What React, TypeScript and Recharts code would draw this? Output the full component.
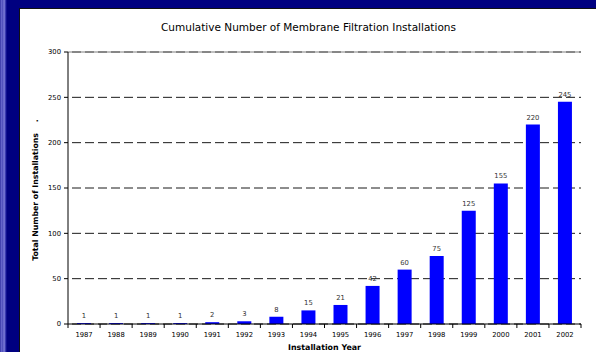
import React from 'react';
import { BarChart, Bar, XAxis, YAxis, CartesianGrid, ReferenceLine, LabelList } from 'recharts';

const YEARS = ['1987', '1988', '1989', '1990', '1991', '1992', '1993', '1994', '1995', '1996', '1997', '1998', '1999', '2000', '2001', '2002'];
const INSTALLS = [1, 1, 1, 1, 2, 3, 8, 15, 21, 42, 60, 75, 125, 155, 220, 245];
const Y_TICKS = [0, 50, 100, 150, 200, 250, 300];

const data = YEARS.map((year, i) => ({ year, count: INSTALLS[i] }));

// Tahoma/Verdana look-alike
const FONT = '"DejaVu Sans", Verdana, sans-serif';

// Excel style: tick marks sit between categories, labels under the bar
const YearTick = (props: any) => {
  const { x, y, payload, width, index } = props;
  const band = (width || 513) / YEARS.length;
  return (
    <g>
      <line x1={x + band / 2} x2={x + band / 2} y1={y} y2={y + 4} stroke="#000" />
      {index === 0 && <line x1={x - band / 2} x2={x - band / 2} y1={y} y2={y + 4} stroke="#000" />}
      <text x={x} y={y + 13} textAnchor="middle" fontSize={6.8} fill="#000" fontFamily={FONT}>
        {payload.value}
      </text>
    </g>
  );
};

const YTitle = (props: any) => {
  const { viewBox } = props;
  const cy = viewBox.y + viewBox.height / 2;
  return (
    <text
      transform={`translate(19, ${cy + 2}) rotate(-90)`}
      textAnchor="middle"
      fontSize={7.8}
      fontWeight="bold"
      fill="#000"
      fontFamily={FONT}
    >
      {'Total Number of Installations\u00a0\u00a0\u00a0\u00a0.'}
    </text>
  );
};

const XTitle = (props: any) => {
  const { viewBox } = props;
  return (
    <text
      x={viewBox.x + viewBox.width / 2}
      y={viewBox.y + 26}
      textAnchor="middle"
      fontSize={7.9}
      fontWeight="bold"
      fill="#000"
      fontFamily={FONT}
    >
      Installation Year
    </text>
  );
};

export default function App() {
  return (
    <div style={{ position: 'absolute', left: 0, top: 0, width: 596, height: 352, background: '#000080', overflow: 'hidden' }}>
      {/* lighter stripe on the left edge of the slide */}
      <div
        style={{
          position: 'absolute',
          left: 0,
          top: 0,
          width: 7,
          height: 352,
          background: 'linear-gradient(to right, #1a1a90 0px, #6c6cd0 1px, #4a4ab8 3px, #8a8ae0 4px, #2020a0 6px, #000080 7px)',
        }}
      />
      <div
        style={{
          position: 'absolute',
          left: 19,
          top: 8,
          width: 577,
          height: 344,
          background: '#fff',
          borderLeft: '1px solid #111',
          borderTop: '1px solid #111',
          boxSizing: 'border-box',
        }}
      >
        <div
          style={{
            position: 'absolute',
            left: 0,
            top: 12,
            width: 577,
            textAlign: 'center',
            fontFamily: FONT,
            fontSize: 10.5,
            lineHeight: '13px',
            color: '#000',
          }}
        >
          Cumulative Number of Membrane Filtration Installations
        </div>
        <div style={{ position: 'absolute', left: -1, top: -1 }}>
          <BarChart width={577} height={344} data={data} margin={{ top: 44, right: 15, left: 0, bottom: 0 }} barCategoryGap={0}>
            <CartesianGrid horizontal vertical={false} stroke="#1a1a1a" strokeDasharray="9 4" strokeDashoffset={-4} />
            <XAxis
              dataKey="year"
              height={28}
              axisLine={{ stroke: '#000' }}
              tickLine={false}
              tickSize={0}
              tickMargin={0}
              interval={0}
              tick={<YearTick />}
              label={<XTitle />}
            />
            <YAxis
              width={49}
              domain={[0, 300]}
              ticks={Y_TICKS}
              interval={0}
              axisLine={{ stroke: '#000' }}
              tickLine={{ stroke: '#000' }}
              tickSize={4}
              tickMargin={3}
              tick={{ fontSize: 6.8, fill: '#000', fontFamily: FONT }}
              label={<YTitle />}
            />
            <YAxis
              yAxisId="right"
              orientation="right"
              width={0}
              domain={[0, 300]}
              tick={false}
              tickLine={false}
              axisLine={{ stroke: '#808080' }}
            />
            <ReferenceLine y={300} stroke="#808080" />
            <Bar dataKey="count" fill="#0000FF" barSize={14} isAnimationActive={false}>
              <LabelList dataKey="count" position="top" offset={5} fontSize={6.8} fill="#333" fontFamily={FONT} />
            </Bar>
          </BarChart>
        </div>
      </div>
    </div>
  );
}
